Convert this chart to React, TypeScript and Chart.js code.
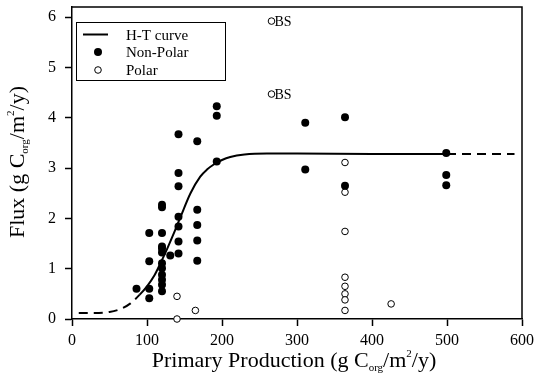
import { useEffect, useRef } from 'react';
import { Chart, registerables } from 'chart.js';

Chart.register(...registerables);

// ---------- data ----------
const xTickValues = [0, 100, 200, 300, 400, 500, 600];
const yTickValues = [0, 1, 2, 3, 4, 5, 6];

const seriesNames = ['H-T curve', 'Non-Polar', 'Polar'];

// H-T curve
const curveX = [9, 30, 50, 65, 78, 90, 100, 110, 118, 127, 136, 145, 158, 171, 180, 189, 200, 211, 230, 260, 300, 400, 500, 550, 590];
const curveY = [0.12, 0.12, 0.14, 0.2, 0.31, 0.48, 0.65, 0.87, 1.11, 1.4, 1.71, 2.04, 2.5, 2.83, 2.97, 3.07, 3.16, 3.22, 3.27, 3.29, 3.29, 3.28, 3.28, 3.28, 3.28];
const solidFrom = 90;
const solidTo = 500;

const nonPolarX = [86, 103, 103, 103, 103, 120, 120, 120, 120, 120, 120, 120, 120, 120, 120, 120, 120, 131, 142, 142, 142, 142, 142, 142, 142, 167, 167, 167, 167, 167, 193, 193, 193, 311, 311, 364, 364, 499, 499, 499];
const nonPolarY = [0.6, 0.6, 0.41, 1.15, 1.71, 1.71, 2.27, 2.22, 1.44, 1.4, 1.32, 1.11, 1.01, 0.88, 0.78, 0.68, 0.55, 1.26, 3.67, 2.9, 2.64, 2.03, 1.84, 1.54, 1.3, 3.53, 2.17, 1.87, 1.56, 1.16, 4.23, 4.04, 3.13, 3.9, 2.97, 4.01, 2.65, 3.3, 2.86, 2.66];

const polarX = [140, 140, 164.5, 266, 266, 364, 364, 364, 364, 364, 364, 364, 364, 425.5];
const polarY = [0.45, 0, 0.17, 5.92, 4.47, 3.11, 2.52, 1.74, 0.83, 0.65, 0.5, 0.38, 0.17, 0.3];
const polarNotes = ['', '', '', 'BS', 'BS', '', '', '', '', '', '', '', '', ''];

type Part = { t: string; sub?: boolean; sup?: boolean };
const xTitleParts: Part[] = [
  { t: 'Primary Production (g C' },
  { t: 'org', sub: true },
  { t: '/m' },
  { t: '2', sup: true },
  { t: '/y)' },
];
const yTitleParts: Part[] = [
  { t: 'Flux (g C' },
  { t: 'org', sub: true },
  { t: '/m' },
  { t: '2', sup: true },
  { t: '/y)' },
];

const SERIF = "'Liberation Serif', 'Times New Roman', Times, serif";

function partFont(p: Part) {
  return p.sub || p.sup ? `11px ${SERIF}` : `22px ${SERIF}`;
}

function drawRich(ctx: CanvasRenderingContext2D, parts: Part[], cx: number, baseline: number) {
  let total = 0;
  for (const p of parts) {
    ctx.font = partFont(p);
    total += ctx.measureText(p.t).width;
  }
  let x = cx - total / 2;
  ctx.textAlign = 'left';
  ctx.textBaseline = 'alphabetic';
  for (const p of parts) {
    ctx.font = partFont(p);
    const dy = p.sub ? 4 : p.sup ? -10 : 0;
    ctx.fillText(p.t, x, baseline + dy);
    x += ctx.measureText(p.t).width;
  }
}

const decorPlugin = {
  id: 'decor',
  afterDatasetsDraw(chart: any) {
    const ctx: CanvasRenderingContext2D = chart.ctx;
    const meta = chart.getDatasetMeta(2);
    ctx.save();
    ctx.fillStyle = '#000';
    ctx.font = `14px ${SERIF}`;
    ctx.textAlign = 'left';
    ctx.textBaseline = 'middle';
    meta.data.forEach((el: any, i: number) => {
      const note = polarNotes[i];
      if (note) ctx.fillText(note, el.x + 3, el.y + 1);
    });
    ctx.restore();
  },
  afterDraw(chart: any) {
    const ctx: CanvasRenderingContext2D = chart.ctx;
    const a = chart.chartArea;
    ctx.save();
    // frame
    ctx.strokeStyle = '#000';
    ctx.lineWidth = 1.5;
    ctx.beginPath();
    ctx.moveTo(a.left, a.top);
    ctx.lineTo(a.right, a.top);
    ctx.lineTo(a.right, a.bottom);
    ctx.stroke();

    // legend
    ctx.lineWidth = 1;
    ctx.strokeRect(76.5, 22.5, 149, 58);
    ctx.lineWidth = 2;
    ctx.beginPath();
    ctx.moveTo(83, 34.5);
    ctx.lineTo(108, 34.5);
    ctx.stroke();
    ctx.fillStyle = '#000';
    ctx.beginPath();
    ctx.arc(98, 52, 4, 0, Math.PI * 2);
    ctx.fill();
    ctx.lineWidth = 1;
    ctx.fillStyle = '#fff';
    ctx.beginPath();
    ctx.arc(98, 70, 3.3, 0, Math.PI * 2);
    ctx.fill();
    ctx.stroke();
    ctx.fillStyle = '#000';
    ctx.font = `15px ${SERIF}`;
    ctx.textAlign = 'left';
    ctx.textBaseline = 'alphabetic';
    const names = chart.data.datasets.map((d: any) => d.label);
    ctx.fillText(names[0], 126, 40);
    ctx.fillText(names[1], 126, 57);
    ctx.fillText(names[2], 126, 74.5);

    // axis titles
    drawRich(ctx, xTitleParts, (a.left + a.right) / 2 - 3, 367);
    ctx.save();
    ctx.translate(23.5, 162);
    ctx.rotate(-Math.PI / 2);
    drawRich(ctx, yTitleParts, 0, 0);
    ctx.restore();
    ctx.restore();
  },
};

export default function App() {
  const ref = useRef<HTMLCanvasElement | null>(null);

  useEffect(() => {
    document.body.style.margin = '0';
    const canvas = ref.current;
    if (!canvas) return;
    const chart = new Chart(canvas, {
      type: 'scatter',
      data: {
        datasets: [
          {
            label: seriesNames[0],
            data: curveX.map((x, i) => ({ x, y: curveY[i] })),
            showLine: true,
            borderColor: '#000',
            borderWidth: 2,
            pointRadius: 0,
            pointHoverRadius: 0,
            cubicInterpolationMode: 'monotone',
            order: 3,
            clip: false,
            segment: {
              borderDash: (c: any) =>
                c.p0.parsed.x < solidFrom || c.p0.parsed.x >= solidTo ? [9, 6] : undefined,
            },
          } as any,
          {
            label: seriesNames[1],
            data: nonPolarX.map((x, i) => ({ x, y: nonPolarY[i] })),
            pointRadius: 4,
            pointBackgroundColor: '#000',
            pointBorderColor: '#000',
            pointBorderWidth: 0,
            order: 1,
            clip: false,
          } as any,
          {
            label: seriesNames[2],
            data: polarX.map((x, i) => ({ x, y: polarY[i] })),
            pointRadius: 3.3,
            pointBackgroundColor: '#fff',
            pointBorderColor: '#000',
            pointBorderWidth: 1,
            order: 2,
            clip: false,
          } as any,
        ],
      },
      options: {
        animation: false,
        responsive: false,
        maintainAspectRatio: false,
        devicePixelRatio: 1,
        layout: { padding: { left: 0, right: 14, top: 7, bottom: 0 } },
        plugins: {
          legend: { display: false },
          tooltip: { enabled: false },
          title: { display: false },
        },
        scales: {
          x: {
            type: 'linear',
            min: 0,
            max: 600,
            afterFit: (s: any) => {
              s.height = 58;
              s.paddingLeft = 0;
              s.paddingRight = 0;
              s.paddingTop = 0;
              s.paddingBottom = 0;
            },
            afterBuildTicks: (s: any) => {
              s.ticks = xTickValues.map((v) => ({ value: v }));
            },
            grid: {
              display: true,
              drawOnChartArea: false,
              drawTicks: true,
              tickLength: 7,
              tickWidth: 1.5,
              tickColor: '#000',
            },
            border: { display: true, color: '#000', width: 1.5 },
            ticks: {
              color: '#000',
              padding: 5,
              maxRotation: 0,
              font: { family: SERIF, size: 16 },
            },
          },
          y: {
            type: 'linear',
            min: 0,
            max: 6.2,
            afterFit: (s: any) => {
              s.width = 72;
              s.paddingLeft = 0;
              s.paddingRight = 0;
              s.paddingTop = 0;
              s.paddingBottom = 0;
            },
            afterBuildTicks: (s: any) => {
              s.ticks = yTickValues.map((v) => ({ value: v }));
            },
            grid: {
              display: true,
              drawOnChartArea: false,
              drawTicks: true,
              tickLength: 7,
              tickWidth: 1.5,
              tickColor: '#000',
            },
            border: { display: true, color: '#000', width: 1.5 },
            ticks: {
              color: '#000',
              padding: 9,
              font: { family: SERIF, size: 16 },
            },
          },
        },
      },
      plugins: [decorPlugin],
    } as any);
    return () => chart.destroy();
  }, []);

  return (
    <div style={{ width: 536, height: 377, background: '#fff' }}>
      <canvas ref={ref} width={536} height={377} style={{ display: 'block' }} />
    </div>
  );
}
